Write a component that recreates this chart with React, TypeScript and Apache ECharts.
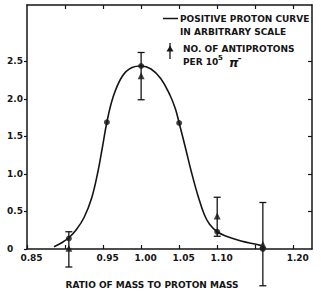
import React, { useEffect, useRef } from "react";
import * as echarts from "echarts";

// Positive proton curve (arbitrary scale)
const curveX = [0.8855, 0.895, 0.905, 0.915, 0.925, 0.935, 0.943, 0.949, 0.955, 0.963, 0.975, 0.988, 1.0, 1.013, 1.026, 1.038, 1.045, 1.05, 1.058, 1.066, 1.075, 1.083, 1.09, 1.1, 1.112, 1.124, 1.136, 1.148, 1.158];
const curveY = [0.03, 0.08, 0.15, 0.26, 0.42, 0.68, 1.02, 1.35, 1.69, 2.02, 2.3, 2.42, 2.44, 2.4, 2.27, 2.05, 1.87, 1.68, 1.36, 1.03, 0.7, 0.46, 0.33, 0.23, 0.17, 0.13, 0.095, 0.07, 0.045];

// Measured positive proton points (dots)
const dotX = [0.905, 0.955, 1.0, 1.05, 1.1, 1.16];
const dotY = [0.14, 1.69, 2.44, 1.68, 0.23, 0.0];

// Antiprotons per 10^5 pi- (triangles) with error bars
const triX = [0.905, 1.0, 1.1, 1.16];
const triY = [0.01, 2.31, 0.44, 0.06];
const errLow = [-0.24, 1.99, 0.17, -0.49];
const errHigh = [0.23, 2.62, 0.69, 0.62];

const xLabelValues = [0.85, 0.95, 1.0, 1.05, 1.1, 1.2];
const xTickValues = [0.85, 0.9, 0.95, 1.0, 1.05, 1.1, 1.15, 1.2];
const yTickValues = [0, 0.5, 1.0, 1.5, 2.0, 2.5];

const INK = "#151515";
const FONT = "DejaVu Sans";

export default function App() {
  const ref = useRef<HTMLDivElement>(null);

  useEffect(() => {
    if (!ref.current) return;
    const chart = echarts.init(ref.current, undefined, { renderer: "svg" });

    const labelStyle = { color: INK, fontFamily: FONT, fontSize: 9, fontWeight: "bold" as const };

    chart.setOption({
      animation: false,
      backgroundColor: "#fff",
      grid: { left: 27, right: 9, top: 5, bottom: 45 },
      xAxis: [
        {
          type: "value",
          min: 0.85,
          max: 1.2246,
          interval: 0.05,
          position: "bottom",
          axisLine: { show: true, onZero: false, lineStyle: { color: INK, width: 1.5 } },
          axisTick: { show: true, inside: true, length: 4, customValues: xTickValues, lineStyle: { color: INK, width: 1.2 } },
          axisLabel: {
            ...labelStyle,
            margin: 4,
            padding: [0, 0, 0, 9],
            customValues: xLabelValues,
            formatter: (v: number) => v.toFixed(2),
          },
          splitLine: { show: false },
        },
        {
          type: "value",
          min: 0.85,
          max: 1.2246,
          interval: 0.05,
          position: "top",
          axisLine: { show: true, onZero: false, lineStyle: { color: INK, width: 1.5 } },
          axisTick: { show: true, inside: true, length: 4, customValues: xTickValues.slice(1), lineStyle: { color: INK, width: 1.2 } },
          axisLabel: { show: false },
          splitLine: { show: false },
        },
      ],
      yAxis: [
        {
          type: "value",
          min: 0,
          max: 3.253,
          interval: 0.5,
          position: "left",
          axisLine: { show: true, onZero: false, lineStyle: { color: INK, width: 1.5 } },
          axisTick: { show: true, inside: false, length: 3, customValues: yTickValues, lineStyle: { color: INK, width: 1.2 } },
          axisLabel: {
            ...labelStyle,
            align: "left",
            margin: 20,
            customValues: yTickValues,
            formatter: (v: number) => (v === 0 ? "0" : v.toFixed(1)),
          },
          splitLine: { show: false },
        },
        {
          type: "value",
          min: 0,
          max: 3.253,
          interval: 0.5,
          position: "right",
          axisLine: { show: true, onZero: false, lineStyle: { color: INK, width: 1.5 } },
          axisTick: { show: true, inside: true, length: 4, customValues: yTickValues.slice(1), lineStyle: { color: INK, width: 1.2 } },
          axisLabel: { show: false },
          splitLine: { show: false },
        },
      ],
      series: [
        {
          name: "Positive proton curve",
          type: "line",
          data: curveX.map((x, i) => [x, curveY[i]]),
          smooth: 0.4,
          showSymbol: false,
          lineStyle: { color: INK, width: 1.6 },
          z: 2,
        },
        {
          name: "Positive proton points",
          type: "scatter",
          data: dotX.map((x, i) => [x, dotY[i]]),
          symbol: "circle",
          symbolSize: 6,
          itemStyle: { color: INK },
          z: 4,
        },
        {
          name: "Antiproton error",
          type: "custom",
          clip: false,
          data: triX.map((x, i) => [x, errLow[i], errHigh[i]]),
          renderItem: (params: any, api: any) => {
            const x = api.value(0);
            const lo = api.coord([x, api.value(1)]);
            const hi = api.coord([x, api.value(2)]);
            const w = 3.5;
            const st = { stroke: INK, lineWidth: 1.3 };
            return {
              type: "group",
              children: [
                { type: "line", shape: { x1: lo[0], y1: lo[1], x2: hi[0], y2: hi[1] }, style: st },
                { type: "line", shape: { x1: lo[0] - w, y1: lo[1], x2: lo[0] + w, y2: lo[1] }, style: st },
                { type: "line", shape: { x1: hi[0] - w, y1: hi[1], x2: hi[0] + w, y2: hi[1] }, style: st },
              ],
            };
          },
          z: 3,
        },
        {
          name: "Antiprotons",
          type: "scatter",
          data: triX.map((x, i) => [x, triY[i]]),
          symbol: "triangle",
          symbolSize: 7,
          itemStyle: { color: INK },
          z: 5,
        },
      ],
      graphic: [
        { type: "line", shape: { x1: 163, y1: 18.5, x2: 178, y2: 18.5 }, style: { stroke: INK, lineWidth: 1.5 } },
        { type: "text", x: 180, y: 19, style: { text: "POSITIVE PROTON CURVE", ...labelStyle, fill: INK, verticalAlign: "middle" } },
        { type: "text", x: 180, y: 32, style: { text: "IN ARBITRARY SCALE", ...labelStyle, fill: INK, verticalAlign: "middle" } },
        { type: "line", shape: { x1: 170, y1: 43, x2: 170, y2: 59 }, style: { stroke: INK, lineWidth: 1.3 } },
        { type: "polygon", shape: { points: [[170, 45.5], [166.5, 51.5], [173.5, 51.5]] }, style: { fill: INK } },
        { type: "text", x: 183, y: 49, style: { text: "NO. OF ANTIPROTONS", ...labelStyle, fill: INK, verticalAlign: "middle" } },
        { type: "text", x: 183, y: 62, style: { text: "PER 10", ...labelStyle, fill: INK, verticalAlign: "middle" } },
        { type: "text", x: 218, y: 58, style: { text: "5", ...labelStyle, fontSize: 7, fill: INK, verticalAlign: "middle" } },
        { type: "text", x: 229, y: 63, style: { text: "\u03C0", ...labelStyle, fontSize: 12, fontStyle: "italic", fill: INK, verticalAlign: "middle" } },
        { type: "text", x: 237.5, y: 58, style: { text: "\u2013", ...labelStyle, fontSize: 8, fill: INK, verticalAlign: "middle" } },
        { type: "text", x: 152, y: 285, style: { text: "RATIO OF MASS TO PROTON MASS", ...labelStyle, fill: INK, align: "center", verticalAlign: "middle" } },
      ],
    });

    return () => chart.dispose();
  }, []);

  return (
    <div
      ref={ref}
      style={{ position: "fixed", left: 0, top: 0, width: 321, height: 294, background: "#fff" }}
    />
  );
}
